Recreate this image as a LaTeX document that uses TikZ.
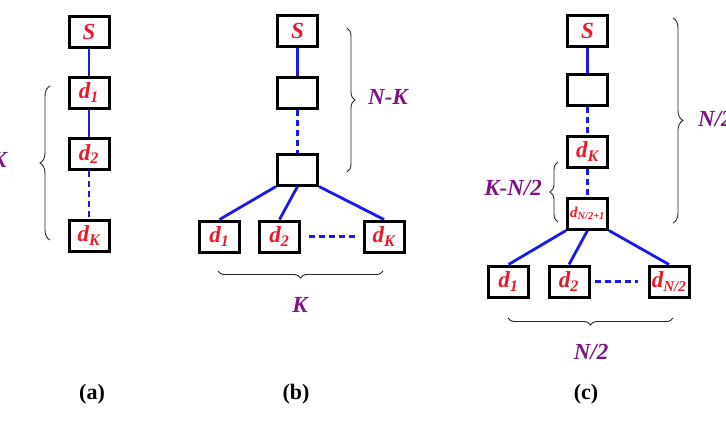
\documentclass[tikz,border=0pt]{standalone}
\usepackage{fontspec}
\setmainfont{Liberation Serif}
\usepackage{tikz}
\usetikzlibrary{decorations.pathreplacing}
\definecolor{relayred}{RGB}{235, 25, 40}
\definecolor{linkblue}{RGB}{25, 25, 235}
\definecolor{countpurple}{RGB}{125, 20, 130}
\newcommand{\dsub}[1]{d\textsubscript{#1}}
\tikzset{
  relay/.style={
    draw=black,
    line width=3pt,
    minimum width=40pt,
    minimum height=31pt,
    inner sep=0pt,
    text=relayred,
    font=\fontsize{23}{23}\selectfont\bfseries\itshape
  },
  small relay/.style={
    relay,
    font=\fontsize{15}{15}\selectfont\bfseries\itshape
  },
  link/.style={
    draw=linkblue,
    line width=2.8pt
  },
  dashlink/.style={
    link,
    dash pattern=on 6pt off 4pt
  },
  group/.style={
    draw=black!85,
    line width=0.9pt,
    decorate,
    decoration={brace, amplitude=#1}
  },
  group/.default=8pt,
  count/.style={
    text=countpurple,
    inner sep=0pt,
    font=\fontsize{23}{23}\selectfont\bfseries\itshape
  },
  caption/.style={
    inner sep=0pt,
    font=\fontsize{22}{22}\selectfont\bfseries
  }
}
\begin{document}
\begin{tikzpicture}[x=1pt, y=-1pt]
  \clip (0,0) rectangle (726,424);

  % (a) chain
  \node[relay] (aS) at (89, 31.5) {S};
  \node[relay] (a1) at (89, 92.5) {\dsub{1}};
  \node[relay] (a2) at (89, 154) {\dsub{2}};
  \node[relay] (aK) at (89, 235.5) {\dsub{K}};

  \path (aS) edge[link] (a1)
        (a1) edge[link] (a2)
        (a2) edge[dashlink] (aK);

  \draw[group=10pt] (50, 240) -- (50, 86);
  \node[count, anchor=east] (aKlab) at (7, 160) {K};

  % (b) chain then fan-out
  \node[relay] (bS) at (297.5, 30.5) {S};
  \node[relay] (b2) at (297.5, 92.5) {};
  \node[relay] (b3) at (297.5, 169.5) {};
  \node[relay] (b1d) at (219.5, 236.5) {\dsub{1}};
  \node[relay] (b2d) at (279.5, 236.5) {\dsub{2}};
  \node[relay] (bKd) at (384, 236.5) {\dsub{K}};

  \path (bS) edge[link] (b2)
        (b2) edge[dashlink] (b3)
        (b3.south west) edge[link] (b1d.north)
        (b3.south) edge[link] (b2d.north)
        (b3.south east) edge[link] (bKd.north)
        (b2d) edge[dashlink, shorten <=8pt, shorten >=8pt] (bKd);

  \draw[group] (347, 28) -- (347, 172);
  \node[count] (bNK) at (388, 97) {N-K};
  \draw[group=7pt] (383, 271) -- (218, 271);
  \node[count] (bK) at (300, 305) {K};

  % (c) chain then fan-out
  \node[relay] (cS) at (587.5, 30.5) {S};
  \node[relay] (c2) at (587.5, 89.5) {};
  \node[relay] (cK) at (587.5, 151.5) {\dsub{K}};
  \node[small relay] (cH) at (587.5, 213.5) {\dsub{N/2+1}};
  \node[small relay] (cNd) at (669, 281.5) {\fontsize{23}{23}\selectfont\dsub{\fontsize{15}{15}\selectfont N/2}};
  \node[relay] (c1d) at (508.5, 281.5) {\dsub{1}};
  \node[relay] (c2d) at (569, 281.5) {\dsub{2}};

  \path (cS) edge[link] (c2)
        (c2) edge[dashlink] (cK)
        (cK) edge[dashlink] (cH)
        (cH.south west) edge[link] (c1d.north)
        (cH.south) edge[link] (c2d.north)
        (cH.south east) edge[link] (cNd.north)
        (c2d) edge[dashlink, shorten <=4pt, shorten >=10pt] (cNd);

  \draw[group=10pt] (673, 18) -- (673, 223);
  \node[count, anchor=west] (cN2) at (698, 119) {N/2};
  \draw[group] (558, 222) -- (558, 162);
  \node[count] (cKN) at (513, 188) {K-N/2};
  \draw[group=7pt] (673, 318) -- (508, 318);
  \node[count] (cN2b) at (591, 352) {N/2};

  % captions
  \node[caption] (capa) at (92, 394) {(a)};
  \node[caption] (capb) at (296, 394) {(b)};
  \node[caption] (capc) at (586, 394) {(c)};
\end{tikzpicture}
\end{document}
